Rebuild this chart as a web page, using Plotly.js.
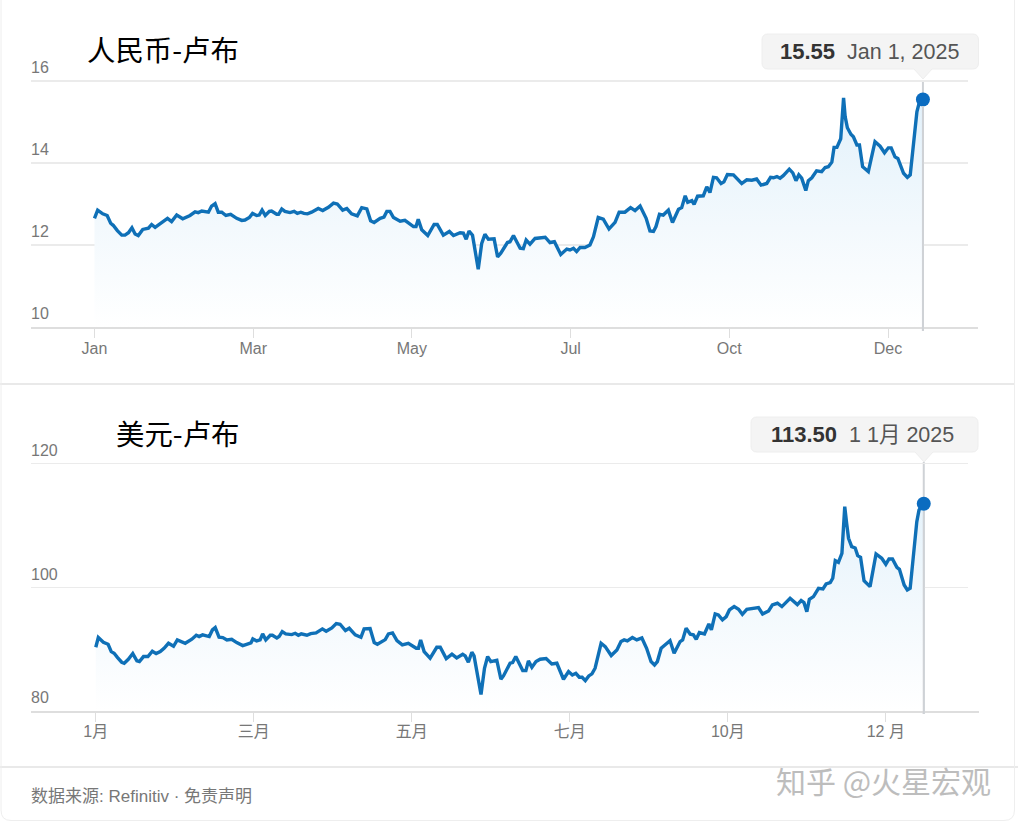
<!DOCTYPE html>
<html>
<head>
<meta charset="utf-8">
<script src="https://cdn.plot.ly/plotly-3.0.1.min.js"></script>
<style>html,body{margin:0;padding:0;background:#fff}#c{width:1018px;height:822px}</style>
</head>
<body>
<div id="c"></div>
<script>
const cnyDays = [0,1,2.6,4,5.1,5.9,7.2,8.6,9.6,10.7,11.8,12.8,13.8,15.2,17,18,19.1,20.6,21.7,23,24.3,25.9,27.8,30.1,31.7,32.7,33.8,35.9,36.9,38,39,40.1,41.4,42.9,44.8,46.4,47.4,48.8,49.8,51.1,51.9,52.8,53.8,55.1,55.8,57.4,58,59,60,61.6,62.9,63.9,65,66,67.1,68.4,70.5,71.9,73.7,75.3,76.5,78.2,79.5,81,82.8,84.2,85.8,87,88.1,90,91.2,92.1,93.1,94.2,96.3,97.8,100.5,101.3,102,103.1,105,107,108,109.9,111.8,113.1,115.2,116.2,117.1,118,119.1,120.9,122,123,124.1,125.9,127,128,130.1,130.9,132,134.1,135.1,136,137.2,138.8,142,143.5,144.9,146.9,148.8,149.8,150.9,151.9,153,154.5,156.1,157.2,158.7,160.3,162.1,164,165.3,167.1,168.9,170.3,171.9,173.8,175,176.1,176.9,178,179.2,180.8,182.1,184,185,186.1,186.9,188.2,188.9,190,191.8,192.9,193.9,195,196,197.4,198.3,199.4,201.3,203.9,205.5,207.1,208.6,210,211.8,213,213.9,215,216,217,218.9,220,221,221.9,222.8,224.1,224.9,226,227.5,229.1,230.2,231.2,232.3,233,233.9,235.1,236,236.5,237.2,238.3,239.1,240.2,241,242,243.8,245.9,247.5,248.9,250.1,251,252.2,253.1,254.9,256.1,257,259.1,259.8,261];
const cnyValues = [12.65,12.85,12.76,12.72,12.53,12.48,12.35,12.24,12.24,12.30,12.42,12.27,12.23,12.38,12.41,12.50,12.43,12.51,12.58,12.65,12.57,12.73,12.64,12.72,12.81,12.79,12.83,12.80,12.95,13.01,12.80,12.80,12.72,12.75,12.65,12.60,12.61,12.67,12.77,12.72,12.73,12.85,12.72,12.82,12.83,12.75,12.75,12.88,12.82,12.79,12.82,12.77,12.80,12.77,12.76,12.80,12.89,12.84,12.92,13.02,13.00,12.85,12.89,12.76,12.71,12.91,12.88,12.59,12.55,12.65,12.68,12.82,12.82,12.67,12.58,12.60,12.45,12.45,12.63,12.37,12.23,12.50,12.50,12.24,12.33,12.23,12.30,12.29,12.14,12.34,12.24,11.41,12.04,12.26,12.14,12.15,11.71,11.80,12.06,12.08,12.23,11.92,11.91,12.12,12.02,12.16,12.19,12.06,12.08,11.77,11.90,11.88,11.92,11.84,11.94,11.94,12.00,12.20,12.67,12.63,12.39,12.55,12.80,12.80,12.91,12.84,12.95,12.65,12.34,12.33,12.45,12.75,12.73,12.85,12.55,12.87,12.91,13.20,13.04,13.08,12.99,13.19,13.20,13.42,13.28,13.65,13.64,13.50,13.54,13.72,13.71,13.50,13.59,13.58,13.61,13.46,13.50,13.65,13.64,13.67,13.63,13.69,13.85,13.76,13.57,13.71,13.63,13.33,13.57,13.64,13.81,13.79,13.89,13.91,14.02,14.38,14.38,14.59,15.59,15.13,14.86,14.70,14.64,14.44,14.44,13.91,13.79,14.52,14.41,14.25,14.37,14.37,14.15,14.11,13.75,13.65,13.71,15.25,15.46,15.55];
const usdDays = [0,0.8,2.4,3.9,4.9,5.8,6.9,8.2,9,10.3,11.7,13,13.8,15.1,16.5,17.9,19.1,20.4,21.6,23,24.6,25.8,28.3,30.4,31.8,32.7,33.8,35.9,36.9,37.8,39,40.2,41.5,43,44.6,46.5,47.5,49.1,49.7,50.9,52,52.8,53.8,55.2,55.9,57.3,58,59,60.1,62,63.1,64.1,65,66.8,68,69.7,71.7,72.9,74.7,76.1,77.3,79,80.2,82.1,83.9,84.9,86.8,88.1,89.1,91.6,92.6,93.9,95.3,97,98.9,101.4,102.1,102.8,103.9,105.8,107.9,109,110.9,112.7,114.2,116.1,116.9,117.9,119,119.7,121.9,123,124,125,126.9,128.2,129,131.1,131.9,132.9,135.1,136.1,136.9,138,139.3,140.6,142.5,144.3,145.9,146.9,148,149.6,150.8,151.9,153,153.9,154.9,156,157,158,159.1,159.9,161.2,163.1,164.9,166.2,167.2,168.2,169.8,171.2,172.8,174.3,175.7,176.8,177.7,178.9,180.1,181.7,183,184.9,185.7,186.8,188.1,189.1,190,191,192.6,194,194.8,196,197,198.3,199.5,200.5,202,203.4,204.6,206,209.7,211,212.9,214.1,215.7,217.1,219.7,222,223.2,224.1,225,225.8,227.1,228.7,230.1,231.1,232.4,233.2,234,235,236.1,237,237.6,238.2,239.2,240.3,241.1,242,243.1,245,246.9,248.7,250,251,252.1,253.5,254.3,255.8,256.8,257.7,259.8,260.5,262];
const usdValues = [90.30,91.87,91.11,90.79,89.60,89.33,88.63,87.88,87.72,88.36,89.28,88.10,87.99,88.80,88.80,89.66,89.28,89.60,90.14,90.95,90.46,91.49,90.95,91.60,92.24,92.03,92.30,92.03,93.10,93.48,91.92,91.87,91.49,91.60,91.06,90.57,90.73,91.00,91.65,91.33,91.49,92.46,91.49,92.24,92.24,91.81,92.03,92.83,92.46,92.35,92.56,92.24,92.46,92.24,92.51,92.62,93.27,92.89,93.43,94.13,94.02,93.00,93.37,92.30,91.92,93.27,93.32,91.06,90.79,91.54,92.46,92.62,91.38,90.68,90.95,90.14,90.14,91.49,89.60,88.53,90.30,90.30,88.47,89.17,88.58,89.17,88.90,87.88,89.50,88.90,82.66,86.91,88.80,87.99,88.20,85.13,85.67,87.72,87.83,88.80,86.53,86.53,88.10,87.07,87.99,88.36,88.47,87.61,87.72,86.37,85.13,86.37,85.83,86.10,85.46,85.46,84.92,85.67,86.00,86.91,89.06,90.95,90.41,88.96,89.87,91.22,91.49,91.33,91.87,91.49,91.81,90.14,87.99,87.45,87.99,90.14,90.68,91.38,89.33,91.22,91.49,93.37,92.40,92.30,91.60,92.67,92.46,94.07,93.10,95.69,95.53,94.72,95.26,96.33,96.87,96.44,95.63,96.44,96.71,95.68,96.17,97.14,97.41,96.87,98.21,97.19,97.84,97.51,96.06,98.05,98.48,99.83,99.72,100.53,100.75,101.45,104.30,104.03,105.48,113.02,110.33,107.91,106.56,106.35,105.11,104.84,101.07,100.10,105.38,104.68,103.71,104.57,104.57,103.22,102.90,100.37,99.56,99.83,110.60,112.48,113.50];
const tickDays = [0,50,100,150,200,250];
const cnyTickText = ['Jan','Mar','May','Jul','Oct','Dec'];
const usdTickText = ['1月','三月','五月','七月','10月','12 月'];
const cnyYTicks = [10,12,14,16];
const usdYTicks = [80,100,120];

const W = 1018, H = 822;
const px = v => v / W, py = v => 1 - v / H;
const FONT = '"Liberation Sans","Noto Sans CJK SC",sans-serif';
const CJK = '"Noto Sans CJK SC","Liberation Sans",sans-serif';
const LINE = '#0f70b7', GRID = '#ebebeb', AXIS = '#dedede', TXT = '#777777';

function lineTrace(x, y, xa, ya, lo, hi) {
  return {x, y, xaxis: xa, yaxis: ya, type: 'scatter', mode: 'lines',
    line: {color: LINE, width: 3.4, shape: 'linear'},
    fill: 'tozeroy',
    fillgradient: {type: 'vertical', start: lo, stop: hi,
      colorscale: [[0, '#ffffff'], [0.4, '#f3f9fd'], [1, '#e0f0fa']]},
    hoverinfo: 'skip'};
}
function dotTrace(x, y, xa, ya) {
  return {x: [x[x.length - 1]], y: [y[y.length - 1]], xaxis: xa, yaxis: ya, type: 'scatter', mode: 'markers',
    marker: {color: '#0b6cc0', size: 14}, cliponaxis: false, hoverinfo: 'skip'};
}
const xBase = {showgrid: false, zeroline: false, showline: true, linecolor: AXIS, linewidth: 2,
  ticks: 'outside', ticklen: 9, tickcolor: AXIS, tickwidth: 1, tickmode: 'array', tickvals: tickDays,
  ticklabelstandoff: -3, tickfont: {family: FONT, size: 16, color: TXT}, fixedrange: true};
const yBase = {showgrid: true, gridcolor: GRID, gridwidth: 1.5, zeroline: false, showline: false, ticks: '',
  tickmode: 'array', ticklabelposition: 'inside top', ticklabelstandoff: -3, ticklabelshift: -2,
  tickfont: {family: FONT, size: 16, color: TXT}, fixedrange: true};

function tooltipPath(l, r, t, b, tip, tipY) {
  const R = 6;
  const pts = [
    `M ${px(l + R)} ${py(t)}`, `L ${px(r - R)} ${py(t)}`, `Q ${px(r)} ${py(t)} ${px(r)} ${py(t + R)}`,
    `L ${px(r)} ${py(b - R)}`, `Q ${px(r)} ${py(b)} ${px(r - R)} ${py(b)}`,
    `L ${px(tip + 9)} ${py(b)}`, `L ${px(tip)} ${py(tipY)}`, `L ${px(tip - 9)} ${py(b)}`,
    `L ${px(l + R)} ${py(b)}`, `Q ${px(l)} ${py(b)} ${px(l)} ${py(b - R)}`,
    `L ${px(l)} ${py(t + R)}`, `Q ${px(l)} ${py(t)} ${px(l + R)} ${py(t)}`, 'Z'];
  return pts.join(' ');
}
const hline = (x0, x1, y, color, width) => ({type: 'line', xref: 'paper', yref: 'paper',
  x0: px(x0), x1: px(x1), y0: py(y), y1: py(y), line: {color, width}});
const vline = (xref, x, y0, y1, layer) => ({type: 'line', xref, yref: 'paper', x0: x, x1: x,
  y0: py(y0), y1: py(y1), line: {color: '#cfd2d6', width: 2}, layer});
const cnyEnd = cnyDays[cnyDays.length - 1], usdEnd = usdDays[usdDays.length - 1];

const shapes = [
  hline(0, 1014, 384, '#e2e2e2', 1.5),
  hline(0, 1018, 767, '#e2e2e2', 1.5),
  {type: 'path', xref: 'paper', yref: 'paper', line: {color: '#eeeeee', width: 1},
   path: `M ${px(1)} ${py(0)} L ${px(1)} ${py(810)} Q ${px(1)} ${py(820.5)} ${px(11)} ${py(820.5)} L ${px(1004)} ${py(820.5)} Q ${px(1014.5)} ${py(820.5)} ${px(1014.5)} ${py(810)} L ${px(1014.5)} ${py(0)}`},
  hline(968, 978, 328, AXIS, 2),
  hline(968, 979, 712, AXIS, 2),
  vline('x', cnyEnd, 80, 331, 'below'),
  vline('x', cnyEnd, 106, 331, 'above'),
  vline('x2', usdEnd, 462, 714, 'below'),
  vline('x2', usdEnd, 511, 714, 'above'),
  {type: 'path', xref: 'paper', yref: 'paper', path: tooltipPath(762, 978.5, 34, 69, 923, 79), fillcolor: '#f4f4f4', line: {color: '#eeeeee', width: 1}},
  {type: 'path', xref: 'paper', yref: 'paper', path: tooltipPath(751, 978, 417, 452, 924, 462), fillcolor: '#f4f4f4', line: {color: '#eeeeee', width: 1}}
];

const note = (x, y, text, font, xanchor) => ({xref: 'paper', yref: 'paper', x: px(x), y: py(y), text, showarrow: false,
  font, xanchor: xanchor || 'left', yanchor: 'middle', borderpad: 0, align: 'left'});
const tipText = (v, d) => `<b style="color:#333;font-size:22px">${v}</b><span style="color:#555">  ${d}</span>`;

const annotations = [
  note(239.5, 48, '人民币-卢布', {family: CJK, size: 28.4, color: '#000'}, 'right'),
  note(239.5, 432.5, '美元-卢布', {family: CJK, size: 28.4, color: '#000'}, 'right'),
  note(869, 51.5, tipText('15.55', 'Jan 1, 2025'), {family: FONT, size: 21.5, color: '#444'}, 'center'),
  note(862.5, 434.5, tipText('113.50', '1 1月 2025'), {family: FONT, size: 21.5, color: '#444'}, 'center'),
  note(30, 796, '数据来源: Refinitiv · 免责声明', {family: FONT, size: 17, color: TXT}),
  note(992, 780, '知乎 @火星宏观', {family: CJK, size: 30, color: '#bdbdbd'}, 'right')
];

const data = [
  lineTrace(cnyDays, cnyValues, 'x', 'y', 10, 16),
  dotTrace(cnyDays, cnyValues, 'x', 'y'),
  lineTrace(usdDays, usdValues, 'x2', 'y2', 80, 120),
  dotTrace(usdDays, usdValues, 'x2', 'y2')
];

const layout = {
  width: W, height: H, autosize: false, showlegend: false, hovermode: false,
  paper_bgcolor: '#ffffff', plot_bgcolor: 'rgba(0,0,0,0)',
  margin: {l: 0, r: 0, t: 0, b: 0, pad: 0},
  xaxis: Object.assign({}, xBase, {domain: [px(31), px(968)], range: [-20, 275.2], ticktext: cnyTickText, anchor: 'y'}),
  yaxis: Object.assign({}, yBase, {domain: [py(327), py(40)], range: [10, 17], tickvals: cnyYTicks, ticktext: cnyYTicks.map(String), anchor: 'x'}),
  xaxis2: Object.assign({}, xBase, {domain: [px(31), px(968)], range: [-20.5, 276], ticktext: usdTickText, anchor: 'y2', ticklabelstandoff: -4}),
  yaxis2: Object.assign({}, yBase, {domain: [py(711), py(432.56)], range: [80, 125], tickvals: usdYTicks, ticktext: usdYTicks.map(String), anchor: 'x2'}),
  shapes, annotations
};
Plotly.newPlot('c', data, layout, {displayModeBar: false, staticPlot: true});
</script>
</body>
</html>
